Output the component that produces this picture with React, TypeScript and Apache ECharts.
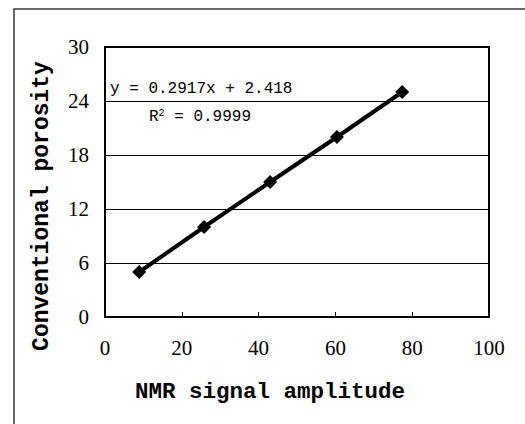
import React, { useEffect, useRef } from "react";
import * as echarts from "echarts";

const amplitude = [8.9, 25.8, 43.0, 60.4, 77.4];
const porosity = [5, 10, 15, 20, 25];
const xTitle = "NMR signal amplitude";
const yTitle = "Conventional porosity";
const equation = "y = 0.2917x + 2.418";
const rSquared = "0.9999";

const SERIF = "Liberation Serif";
const MONO = "Liberation Mono";

export default function App() {
  const ref = useRef<HTMLDivElement>(null);
  useEffect(() => {
    if (!ref.current) return;
    const chart = echarts.init(ref.current, null, { renderer: "svg" });
    const data = amplitude.map((x, i) => [x, porosity[i]]);
    chart.setOption({
      animation: false,
      backgroundColor: "#ffffff",
      textStyle: { fontFamily: SERIF },
      grid: {
        left: 105,
        top: 47,
        right: 36,
        bottom: 107,
        show: true,
        borderColor: "#000",
        borderWidth: 2,
        backgroundColor: "transparent",
      },
      xAxis: {
        type: "value",
        min: 0,
        max: 100,
        interval: 20,
        axisLine: { show: true, lineStyle: { color: "#000", width: 2 } },
        axisTick: { show: true, inside: true, length: 5, lineStyle: { color: "#000", width: 1 } },
        axisLabel: { fontFamily: SERIF, fontSize: 21, color: "#000", margin: 20 },
        splitLine: { show: false },
      },
      yAxis: {
        type: "value",
        min: 0,
        max: 30,
        interval: 6,
        axisLine: { show: true, lineStyle: { color: "#000", width: 2 } },
        axisTick: { show: false },
        axisLabel: { fontFamily: SERIF, fontSize: 21, color: "#000", margin: 16 },
        splitLine: { show: true, lineStyle: { color: "#000", width: 1 } },
      },
      series: [
        {
          type: "line",
          data,
          symbol: "diamond",
          symbolSize: 14,
          lineStyle: { color: "#000", width: 4 },
          itemStyle: { color: "#000" },
          z: 5,
        },
      ],
      graphic: [
        {
          type: "rect",
          shape: { x: 14, y: 9, width: 700, height: 600 },
          style: { fill: "none", stroke: "#3a3a3a", lineWidth: 1.5 },
          z: 100,
        },
        {
          type: "text",
          x: 270,
          y: 392,
          style: {
            text: xTitle,
            fontFamily: MONO,
            fontWeight: "bold",
            fontSize: 22.5,
            fill: "#000",
            textAlign: "center",
            textVerticalAlign: "middle",
          },
        },
        {
          type: "text",
          x: 42,
          y: 206,
          rotation: Math.PI / 2,
          style: {
            text: yTitle,
            fontFamily: MONO,
            fontWeight: "bold",
            fontSize: 23,
            fill: "#000",
            textAlign: "center",
            textVerticalAlign: "middle",
          },
        },
        {
          type: "text",
          x: 110,
          y: 89,
          style: {
            text: equation,
            fontFamily: MONO,
            fontSize: 16,
            fill: "#000",
            textAlign: "left",
            textVerticalAlign: "middle",
          },
        },
        {
          type: "text",
          x: 149,
          y: 117,
          style: {
            text: "R{sup|2} = " + rSquared,
            fontFamily: MONO,
            fontSize: 16,
            fill: "#000",
            textAlign: "left",
            textVerticalAlign: "middle",
            rich: {
              sup: {
                fontFamily: MONO,
                fontSize: 10,
                fill: "#000",
                padding: [0, 0, 8, 0],
              },
            },
          },
        },
      ],
    });
    return () => chart.dispose();
  }, []);
  return (
    <div
      ref={ref}
      style={{ position: "absolute", left: 0, top: 0, width: 525, height: 424 }}
    />
  );
}
